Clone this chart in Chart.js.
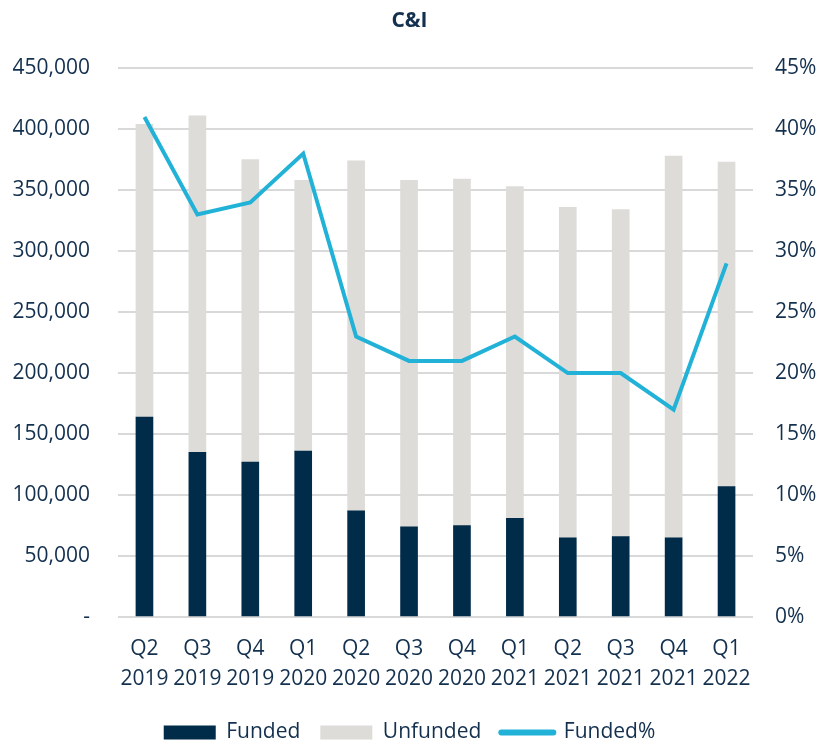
<!DOCTYPE html>
<html>
<head>
<meta charset="utf-8">
<script src="https://cdn.jsdelivr.net/npm/chart.js@4.4.1/dist/chart.umd.min.js"></script>
<style>
  html, body { margin: 0; padding: 0; background: #ffffff; }
  #wrap { width: 819px; height: 742px; }
</style>
</head>
<body>
<div id="wrap"><canvas id="cni" width="819" height="742"></canvas></div>
<script>
// Quarter labels, two lines each
const quarters = [
  ['Q2', '2019'], ['Q3', '2019'], ['Q4', '2019'], ['Q1', '2020'],
  ['Q2', '2020'], ['Q3', '2020'], ['Q4', '2020'], ['Q1', '2021'],
  ['Q2', '2021'], ['Q3', '2021'], ['Q4', '2021'], ['Q1', '2022']
];

// Commitments in $ thousands
const funded   = [164000, 135000, 127000, 136000, 87000, 74000, 75000, 81000, 65000, 66000, 65000, 107000];
const unfunded = [240000, 276000, 248000, 222000, 287000, 284000, 284000, 272000, 271000, 268000, 313000, 266000];

// Funded share of total commitments
const fundedPct = [0.41, 0.33, 0.34, 0.38, 0.23, 0.21, 0.21, 0.23, 0.20, 0.20, 0.17, 0.29];

const navy = '#002b49';
const grey = '#dddcd8';
const cyan = '#23b2d7';
const textColor = '#13304e';
const fontFamily = '"Open Sans", "Liberation Sans", sans-serif';
const legendOrder = ['Funded', 'Unfunded', 'Funded%'];

Chart.defaults.font.family = fontFamily;
Chart.defaults.color = textColor;

// wide item spacing makes the legend row too tall, so clamp its height
const legendHeight = {
  id: 'legendHeight',
  beforeLayout(chart) {
    const lg = chart.legend;
    if (lg && !lg._clamped) {
      const fit = lg.fit.bind(lg);
      lg.fit = function () { fit(); this.height = 40; };
      lg._clamped = true;
    }
  }
};

new Chart(document.getElementById('cni'), {
  type: 'bar',
  data: {
    labels: quarters,
    datasets: [
      {
        type: 'line',
        label: 'Funded%',
        data: fundedPct,
        yAxisID: 'yPct',
        borderColor: cyan,
        backgroundColor: cyan,
        borderWidth: 4,
        pointRadius: 0,
        tension: 0,
        order: 0
      },
      {
        label: 'Funded',
        data: funded,
        yAxisID: 'y',
        backgroundColor: navy,
        barThickness: 17,
        stack: 'total',
        order: 1
      },
      {
        label: 'Unfunded',
        data: unfunded,
        yAxisID: 'y',
        backgroundColor: grey,
        barThickness: 17,
        stack: 'total',
        order: 1
      }
    ]
  },
  plugins: [legendHeight],
  options: {
    responsive: false,
    animation: false,
    layout: { padding: 0 },
    plugins: {
      title: {
        display: true,
        text: 'C&I',
        color: textColor,
        font: { size: 21, weight: 'bold' },
        padding: { top: 8, bottom: 35 }
      },
      legend: {
        position: 'bottom',
        labels: {
          usePointStyle: true,
          pointStyleWidth: 52,
          boxWidth: 52,
          boxHeight: 14,
          padding: 20,
          color: textColor,
          font: { size: 21 },
          sort: (a, b) => legendOrder.indexOf(a.text) - legendOrder.indexOf(b.text),
          generateLabels: chart => {
            const items = Chart.defaults.plugins.legend.labels.generateLabels(chart);
            items.forEach(it => {
              if (it.text === 'Funded%') {
                it.pointStyle = 'line';
                it.lineWidth = 6;
                it.lineCap = 'round';
                it.strokeStyle = cyan;
              } else {
                it.pointStyle = 'rect';
                it.lineWidth = 0;
              }
            });
            return items;
          }
        }
      },
      tooltip: { enabled: false }
    },
    scales: {
      x: {
        stacked: true,
        grid: { display: false, drawTicks: false },
        border: { display: false },
        ticks: { color: textColor, font: { size: 21, lineHeight: 1.43 }, padding: 17, maxRotation: 0 },
        afterFit: s => { s.height = 85; }
      },
      y: {
        stacked: true,
        position: 'left',
        min: 0,
        max: 450000,
        grid: { color: '#d9d9d9', lineWidth: 2, drawTicks: false },
        border: { display: false },
        ticks: {
          stepSize: 50000,
          padding: 28,
          color: textColor,
          font: { size: 21 },
          callback: v => v === 0 ? '-' : v.toLocaleString('en-US')
        },
        afterFit: s => { s.width = 118; }
      },
      yPct: {
        position: 'right',
        min: 0,
        max: 0.45,
        grid: { display: false, drawTicks: false },
        border: { display: false },
        ticks: {
          stepSize: 0.05,
          padding: 22,
          color: textColor,
          font: { size: 21 },
          callback: v => Math.round(v * 100) + '%'
        },
        afterFit: s => { s.width = 66; }
      }
    }
  }
});
</script>
</body>
</html>
